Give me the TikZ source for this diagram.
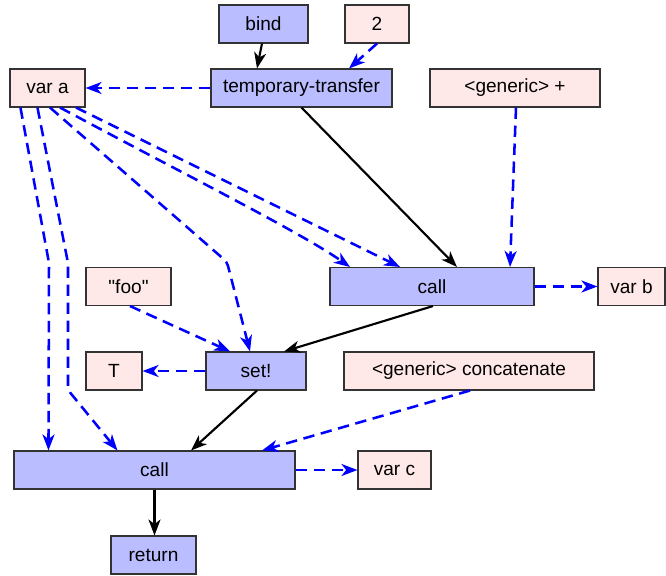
\documentclass[tikz,border=0pt]{standalone}
\usepackage{fontspec}
\setmainfont{Liberation Sans}
% plain family without TeX ligature mapping, so " stays a straight quote
\newfontfamily\plainsans{Liberation Sans}
\usetikzlibrary{arrows.meta,calc}
\definecolor{opfill}{RGB}{186,189,255}
\definecolor{valfill}{RGB}{255,233,232}
\definecolor{edgeblue}{RGB}{0,0,255}
\tikzset{
  box/.style={draw=black!80, line width=0.8pt, inner sep=0pt,
    minimum height=28.5pt, font=\plainsans\fontsize{14.3}{16}\selectfont},
  opbox/.style={box, fill=opfill},
  valbox/.style={box, fill=valfill},
  flow/.style={draw=black, line width=1.6pt,
    -{Stealth[length=12pt,width=9pt,inset=3.5pt]}},
  dataflow/.style={draw=edgeblue, line width=1.9pt, dash pattern=on 8.5pt off 5pt,
    -{Stealth[length=12pt,width=9pt,inset=3.5pt]}},
}
\begin{document}
\begin{tikzpicture}[x=0.75pt,y=-0.75pt]
\useasboundingbox (0,0) rectangle (666,575);

% nodes
\node[opbox,  minimum width=66.75pt]  (bind)    at (263.5,24)  {bind};
\node[valbox, minimum width=48pt]     (two)     at (377,24)    {2};
\node[opbox,  minimum width=135.75pt] (tt)      at (301.5,88)  {temporary-transfer};
\node[valbox, minimum width=56.25pt]  (vara)    at (47.5,88)   {var a};
\node[valbox, minimum width=127.5pt]  (genplus) at (515,88)    {<generic> +};
\node[opbox,  minimum width=153pt]    (callA)   at (432,286.5) {call};
\node[valbox, minimum width=50.25pt]  (varb)    at (631.5,286.5) {var b};
\node[valbox, minimum width=63.75pt]  (foo)     at (128.5,286.5) {"foo"};
\node[valbox, minimum width=42pt]     (T)       at (114,371)   {T};
\node[opbox,  minimum width=75pt]     (set)     at (256,371)   {set!};
\node[valbox, minimum width=187.5pt]  (concat)  at (469,371)   {<generic> concatenate};
\node[opbox,  minimum width=210.75pt] (callB)   at (154.5,470) {call};
\node[valbox, minimum width=54.75pt]  (varc)    at (394.5,470) {var c};
\node[opbox,  minimum width=63.75pt]  (ret)     at (153.5,555) {return};

% control flow
\draw[flow] ($(bind.south)+(-1.5,0)$) -- ($(tt.north)+(-44.5,0)$);
\draw[flow] (tt.south) -- ($(callA.north)+(25,0)$);
\draw[flow] ($(callA.south)+(1,0)$) -- ($(set.north)+(28,0)$);
\draw[flow] ($(set.south)+(1,0)$) -- ($(callB.north)+(36.5,0)$);
\draw[flow] (callB.south) -- (callB.south |- ret.north);

% data flow
\draw[dataflow] (two.south) -- ($(tt.north)+(47.5,0)$);
\draw[dataflow] (tt.west) -- (vara.east);
\draw[dataflow] ($(genplus.south)+(1,0)$) -- ($(callA.north)+(78,0)$);
\draw[dataflow] ($(vara.south)+(28.5,0)$) -- ($(callA.north)+(-32,0)$);
\draw[dataflow] ($(vara.south)+(12.5,0)$) .. controls (180,172) and (300,232) .. ($(callA.north)+(-82,0)$);
\draw[dataflow, rounded corners=3pt] ($(vara.south)+(2.5,0)$) -- (227,262) -- ($(set.north)+(-6,0)$);
\draw[dataflow, rounded corners=3pt] ($(vara.south west)+(11,0)$) -- (49,263) -- ($(callB.north west)+(35,0)$);
\draw[dataflow, rounded corners=3pt] ($(vara.south west)+(28,0)$) -- (68,263) -- (68,390) -- ($(callB.north west)+(104,0)$);
\draw[dataflow] (callA.east) -- (varb.west);
\draw[dataflow] ($(foo.south)+(1.5,0)$) -- ($(set.north)+(-26,0)$);
\draw[dataflow] (set.west) -- (T.east);
\draw[dataflow] ($(concat.south)+(1,0)$) -- ($(callB.north)+(107.5,0)$);
\draw[dataflow] (callB.east) -- (varc.west);
\end{tikzpicture}
\end{document}
